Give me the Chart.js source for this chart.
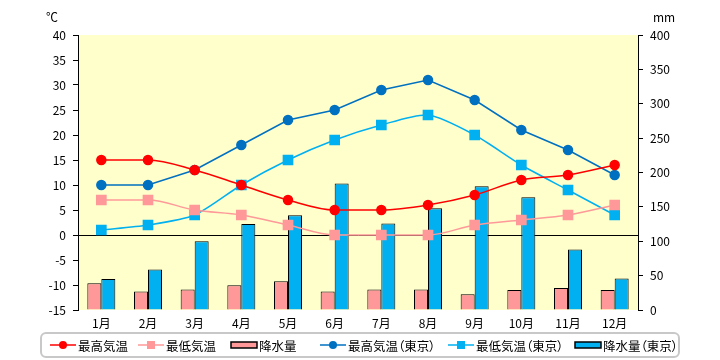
<!DOCTYPE html>
<html>
<head>
<meta charset="utf-8">
<script src="https://cdn.jsdelivr.net/npm/chart.js@4/dist/chart.umd.min.js"></script>
<style>
  body { margin: 0; background: #fff; font-family: "Noto Sans CJK JP", sans-serif; }
  #wrap { position: relative; width: 720px; height: 360px; }
  .unit { position: absolute; font-size: 12px; color: #000; }
  #legend { position: absolute; left: 40px; top: 332px; width: 636px; height: 22px;
            border: 2px solid #c8c8c8; border-radius: 6px; }
  .item { position: absolute; top: 0; height: 22px; display: flex; align-items: center;
          white-space: nowrap; font-size: 12.5px; color: #000; font-feature-settings: "palt"; }
  .item svg { margin-right: 1px; flex: none; }
</style>
</head>
<body>
<div id="wrap">
  <canvas id="chart1" width="720" height="360"></canvas>
  <div class="unit" style="left:46px; top:8px;">℃</div>
  <div class="unit" style="left:653px; top:8px;">mm</div>
  <div id="legend"></div>
</div>
<script>
// データ
const meses = ["1月", "2月", "3月", "4月", "5月", "6月", "7月", "8月", "9月", "10月", "11月", "12月"];
const maxTemp = [15, 15, 13, 10, 7, 5, 5, 6, 8, 11, 12, 14];
const minTemp = [7, 7, 5, 4, 2, 0, 0, 0, 2, 3, 4, 6];
const chuva = [39, 27, 30, 36, 42, 27, 30, 30, 23, 29, 32, 29];
const maxTokyo = [10, 10, 13, 18, 23, 25, 29, 31, 27, 21, 17, 12];
const minTokyo = [1, 2, 4, 10, 15, 19, 22, 24, 20, 14, 9, 4];
const chuvaTokyo = [45, 59, 100, 125, 138, 184, 126, 148, 180, 164, 88, 46];

const FONT = { family: "'Noto Sans CJK JP', sans-serif", size: 12 };

// fundo amarelo da área do gráfico
const fundoPlugin = {
    id: "fundo",
    beforeDraw(chart) {
        const a = chart.chartArea;
        const c = chart.ctx;
        c.save();
        c.fillStyle = "#FFFFCC";
        c.fillRect(a.left, a.top, a.right - a.left, a.bottom - a.top);
        c.restore();
    }
};

const ctx = document.getElementById("chart1").getContext("2d");
const chart = new Chart(ctx, {
    data: {
        labels: meses,
        datasets: [
            { type: "line", label: "最高気温", data: maxTemp, yAxisID: "y", order: 1,
              borderColor: "#FF0000", backgroundColor: "#FF0000", borderWidth: 1.5,
              pointStyle: "circle", pointRadius: 4.5, cubicInterpolationMode: "monotone" },
            { type: "line", label: "最低気温", data: minTemp, yAxisID: "y", order: 1,
              borderColor: "#FF9999", backgroundColor: "#FF9999", borderWidth: 1.5,
              pointStyle: "rect", pointRadius: 6.5, cubicInterpolationMode: "monotone" },
            { type: "bar", label: "降水量", data: chuva, yAxisID: "y1", order: 2,
              backgroundColor: "#FF9999", borderColor: "#000", borderWidth: 1,
              categoryPercentage: 0.6, barPercentage: 1.0 },
            { type: "line", label: "最高気温（東京）", data: maxTokyo, yAxisID: "y", order: 1,
              borderColor: "#0070C0", backgroundColor: "#0070C0", borderWidth: 1.5,
              pointStyle: "circle", pointRadius: 4.5, tension: 0 },
            { type: "line", label: "最低気温（東京）", data: minTokyo, yAxisID: "y", order: 1,
              borderColor: "#00B0F0", backgroundColor: "#00B0F0", borderWidth: 1.5,
              pointStyle: "rect", pointRadius: 6.5, tension: 0.25 },
            { type: "bar", label: "降水量（東京）", data: chuvaTokyo, yAxisID: "y1", order: 2,
              backgroundColor: "#00B0F0", borderColor: "#000", borderWidth: 1,
              categoryPercentage: 0.6, barPercentage: 1.0 }
        ]
    },
    options: {
        responsive: false,
        animation: false,
        devicePixelRatio: 1,
        layout: { padding: { top: 35, left: 0, right: 0, bottom: 0 } },
        plugins: { legend: { display: false }, tooltip: { enabled: false } },
        elements: { point: { borderWidth: 0 } },
        scales: {
            x: {
                grid: { display: false, drawTicks: false },
                border: { display: false },
                ticks: { color: "#000", font: FONT, padding: 6, maxRotation: 0 },
                afterFit(s) { s.height = 50; }
            },
            y: {
                position: "left", min: -15, max: 40,
                ticks: { stepSize: 5, color: "#000", font: FONT, padding: 7 },
                grid: {
                    color: c => c.tick && c.tick.value === 0 ? "#000" : "rgba(0,0,0,0)",
                    tickColor: "#000", tickLength: 5, lineWidth: 1
                },
                border: { display: true, color: "#000", width: 1 },
                afterFit(s) { s.width = 78; }
            },
            y1: {
                position: "right", min: 0, max: 400,
                ticks: { stepSize: 50, color: "#000", font: FONT, padding: 7 },
                grid: { drawOnChartArea: false, tickColor: "#000", tickLength: 5 },
                border: { display: true, color: "#000", width: 1 },
                afterFit(s) { s.width = 82; }
            }
        }
    },
    plugins: [fundoPlugin]
});

// legenda em HTML
const legendaItens = [
    { x: 8,   tipo: "line", cor: "#FF0000", marca: "circle" },
    { x: 96,  tipo: "line", cor: "#FF9999", marca: "rect" },
    { x: 188, tipo: "bar",  cor: "#FF9999" },
    { x: 278, tipo: "line", cor: "#0070C0", marca: "circle" },
    { x: 406, tipo: "line", cor: "#00B0F0", marca: "rect" },
    { x: 532, tipo: "bar",  cor: "#00B0F0" }
];
const legendaEl = document.getElementById("legend");
chart.data.datasets.forEach((ds, i) => {
    const it = legendaItens[i];
    let svg;
    if (it.tipo === "bar") {
        svg = `<svg width="28" height="10"><rect x="1" y="2" width="26" height="6" fill="${it.cor}" stroke="#000" stroke-width="1.5"/></svg>`;
    } else {
        const m = it.marca === "circle"
            ? `<circle cx="13" cy="5" r="4" fill="${it.cor}"/>`
            : `<rect x="9" y="1" width="8" height="8" fill="${it.cor}"/>`;
        svg = `<svg width="27" height="10"><line x1="0" y1="5" x2="26" y2="5" stroke="${it.cor}" stroke-width="1.5"/>${m}</svg>`;
    }
    const div = document.createElement("div");
    div.className = "item";
    div.style.left = it.x + "px";
    div.innerHTML = svg + "<span>" + ds.label + "</span>";
    legendaEl.appendChild(div);
});
</script>
</body>
</html>
